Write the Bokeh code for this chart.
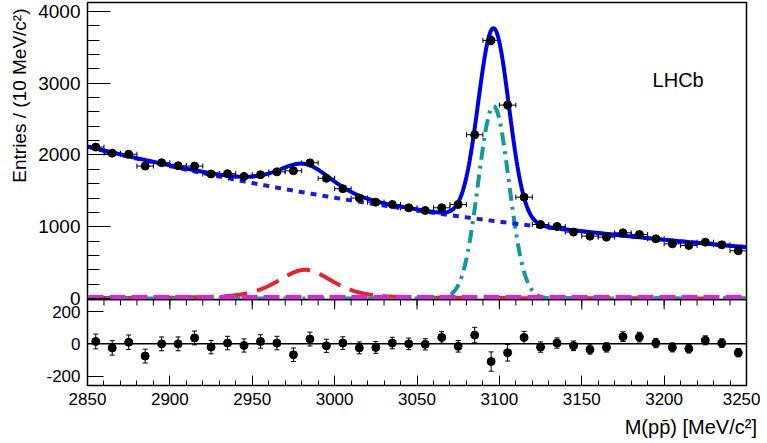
import numpy as np
from bokeh.plotting import figure
from bokeh.layouts import column
from bokeh.models import (Range1d, FixedTicker, Label, Whisker, TeeHead,
                          ColumnDataSource, Span, Title)
from bokeh.embed import file_html
from bokeh.resources import INLINE

# ---------------- data ----------------
mass = [2855, 2865, 2875, 2885, 2895, 2905, 2915, 2925, 2935, 2945,
        2955, 2965, 2975, 2985, 2995, 3005, 3015, 3025, 3035, 3045,
        3055, 3065, 3075, 3085, 3095, 3105, 3115, 3125, 3135, 3145,
        3155, 3165, 3175, 3185, 3195, 3205, 3215, 3225, 3235, 3245]
entries = [2110, 2025, 2010, 1845, 1892, 1850, 1845, 1735, 1740, 1700,
           1725, 1765, 1780, 1890, 1675, 1530, 1400, 1343, 1310, 1264,
           1227, 1264, 1310, 2282, 3597, 2695, 1412, 1031, 1004, 925,
           869, 855, 915, 892, 832, 762, 739, 785, 748, 665]
entries_err = [46, 45, 45, 43, 43, 43, 43, 42, 42, 41,
               42, 42, 42, 43, 41, 39, 37, 37, 36, 36,
               35, 36, 36, 48, 60, 52, 38, 32, 32, 30,
               29, 29, 30, 30, 29, 28, 27, 28, 27, 26]
residuals = [15, -25, 10, -76, 0, 0, 37, -20, 5, -10,
             15, 5, -68, 30, -12, 5, -25, -22, 5, 0,
             -3, 40, -15, 55, -110, -55, 40, -20, 5, -12,
             -35, -22, 45, 42, 5, -22, -30, 22, 5, -55]
residual_err = entries_err
bin_half_width = 5

# fit components (parameters)
bkg_norm, bkg_slope, bkg_ref = 2095.0, 0.00276, 2850.0
etac_mass, etac_height, etac_fwhm = 2982.0, 400.0, 40.0
jpsi_mass, jpsi_height, jpsi_sigma = 3096.5, 2680.0, 9.3
flat_level = 20.0

x_ticks = [2850, 2900, 2950, 3000, 3050, 3100, 3150, 3200, 3250]
x_minor_ticks = list(range(2850, 3251, 10))
top_y_ticks = [0, 1000, 2000, 3000, 4000]
top_y_minor_ticks = list(range(0, 4101, 200))
res_y_ticks = [-200, 0, 200]
res_y_labels = {-200: "-200", 0: "0", 200: "200"}

y_title = "Entries / (10 MeV/c\u00b2)"
x_title = "M(pp\u0304)  [MeV/c\u00b2]"

FONT = "Liberation Sans"

# ---------------- model curves ----------------
m = np.linspace(2850, 3250, 801)
bkg = bkg_norm * np.exp(-bkg_slope * (m - bkg_ref))
hw = etac_fwhm / 2.0
etac = etac_height * (0.5 / (1 + ((m - etac_mass) / hw) ** 2)
                      + 0.5 * np.exp(-np.log(2) * ((m - etac_mass) / hw) ** 2))
jpsi = jpsi_height * np.exp(-0.5 * ((m - jpsi_mass) / jpsi_sigma) ** 2)
flat = np.full_like(m, flat_level)
total = bkg + etac + jpsi + flat

xr = Range1d(2850, 3250)

# ---------------- top panel ----------------
p1 = figure(width=760, height=311, x_range=xr, y_range=Range1d(-14, 4125),
            output_backend="svg", toolbar_location=None,
            min_border_left=83, min_border_right=14, min_border_top=2,
            min_border_bottom=12, x_axis_location=None)
p1.grid.visible = False
p1.outline_line_color = "black"
p1.outline_line_width = 1.5
ya = p1.yaxis[0]
ya.ticker = FixedTicker(ticks=top_y_ticks, minor_ticks=top_y_minor_ticks)
ya.major_tick_in, ya.major_tick_out = 23, 0
ya.minor_tick_in, ya.minor_tick_out = 12, 0
ya.major_tick_line_width = 1.2
ya.minor_tick_line_width = 1.2
ya.axis_line_color = "black"
ya.major_label_text_font = FONT
ya.major_label_text_font_size = "19px"
ya.major_label_text_color = "black"
ya.major_label_standoff = 7

p1.add_layout(Title(text=y_title, align="right", offset=6, standoff=12,
                    text_font=FONT, text_font_size="19px",
                    text_font_style="normal", text_color="black"), "left")

p1.line(m, etac, line_color="#e8222a", line_width=4, line_dash="24 10")
p1.line(m, jpsi, line_color="#0e9a9a", line_width=4, line_dash="13 6 3 6")
p1.line(m, flat, line_color="#e020e0", line_width=4, line_dash="16 6")
p1.line(m, bkg + flat, line_color="#1a1ae0", line_width=4, line_dash="6 6")
p1.line(m, total, line_color="#0000e6", line_width=4)

src = ColumnDataSource(dict(
    x=mass, y=entries,
    xl=[v - bin_half_width for v in mass], xu=[v + bin_half_width for v in mass],
    yl=[a - b for a, b in zip(entries, entries_err)],
    yu=[a + b for a, b in zip(entries, entries_err)]))
p1.add_layout(Whisker(source=src, base="y", lower="xl", upper="xu", dimension="width",
                      line_color="black", line_width=1,
                      upper_head=TeeHead(size=5, line_width=1, line_color="black"),
                      lower_head=TeeHead(size=5, line_width=1, line_color="black")))
p1.add_layout(Whisker(source=src, base="x", lower="yl", upper="yu", dimension="height",
                      line_color="black", line_width=1,
                      upper_head=TeeHead(size=4, line_width=1, line_color="black"),
                      lower_head=TeeHead(size=4, line_width=1, line_color="black")))
p1.scatter("x", "y", source=src, size=8, color="black")

p1.add_layout(Label(x=3193, y=3050, text="LHCb", text_font=FONT,
                    text_font_size="20px", text_color="black",
                    text_baseline="alphabetic"))

# ---------------- residual panel ----------------
p2 = figure(width=760, height=147, x_range=xr, y_range=Range1d(-259, 276),
            output_backend="svg", toolbar_location=None,
            min_border_left=83, min_border_right=14, min_border_top=0,
            min_border_bottom=61, margin=(-12, 0, -6, 0))
p2.grid.visible = False
p2.outline_line_color = "black"
p2.outline_line_width = 1.5
p2.background_fill_alpha = 0
p2.border_fill_alpha = 0

xa = p2.xaxis[0]
xa.ticker = FixedTicker(ticks=x_ticks, minor_ticks=x_minor_ticks)
xa.major_tick_in, xa.major_tick_out = 10, 0
xa.minor_tick_in, xa.minor_tick_out = 5, 0
xa.major_label_text_font = FONT
xa.major_label_text_font_size = "17px"
xa.major_label_text_color = "black"
xa.major_label_standoff = 7

p2.add_layout(Title(text=x_title, align="right", offset=-16, standoff=12,
                    text_font=FONT, text_font_size="20px",
                    text_font_style="normal", text_color="black"), "below")

ya2 = p2.yaxis[0]
ya2.ticker = FixedTicker(ticks=res_y_ticks, minor_ticks=[])
ya2.major_label_overrides = res_y_labels
ya2.major_tick_in, ya2.major_tick_out = 16, 0
ya2.minor_tick_in, ya2.minor_tick_out = 0, 0
ya2.major_label_text_font = FONT
ya2.major_label_text_font_size = "17px"
ya2.major_label_text_color = "black"
ya2.major_label_standoff = 7

# ticks along the shared boundary between the two panels (pointing down)
top_edge = 276
minor_len, major_len = 37, 62   # in residual units (about 6 px and 10 px)
p2.segment(x0=x_minor_ticks, x1=x_minor_ticks, y0=[top_edge] * len(x_minor_ticks),
           y1=[top_edge - minor_len] * len(x_minor_ticks), line_color="black", line_width=1)
p2.segment(x0=x_ticks, x1=x_ticks, y0=[top_edge] * len(x_ticks),
           y1=[top_edge - major_len] * len(x_ticks), line_color="black", line_width=1)

p2.add_layout(Span(location=0, dimension="width", line_color="black", line_width=1.5))
rsrc = ColumnDataSource(dict(
    x=mass, y=residuals,
    yl=[a - b for a, b in zip(residuals, residual_err)],
    yu=[a + b for a, b in zip(residuals, residual_err)]))
p2.add_layout(Whisker(source=rsrc, base="x", lower="yl", upper="yu", dimension="height",
                      line_color="black", line_width=1,
                      upper_head=TeeHead(size=5, line_width=1, line_color="black"),
                      lower_head=TeeHead(size=5, line_width=1, line_color="black")))
p2.scatter("x", "y", source=rsrc, size=8, color="black")

layout = column(p1, p2, spacing=0)
open("out.html", "w").write(file_html(layout, INLINE))
